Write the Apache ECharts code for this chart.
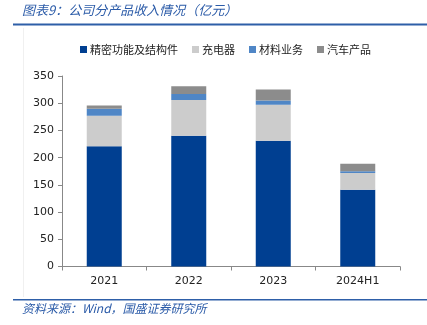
<!DOCTYPE html>
<html><head><meta charset="utf-8">
<script src="https://cdn.jsdelivr.net/npm/echarts@6/dist/echarts.min.js"></script>
<style>html,body{margin:0;padding:0;background:#fff}#c{width:427px;height:325px}</style>
</head><body><div id="c"></div>
<script>
const categories = ['2021', '2022', '2023', '2024H1'];
const precision = [221, 240, 231, 141];
const charger = [56, 66, 66, 31];
const materials = [13, 11, 8, 3];
const auto = [6, 14, 20, 14];
const seriesNames = ['精密功能及结构件', '充电器', '材料业务', '汽车产品'];
const colors = ['#003F91', '#CCCCCC', '#4F86C6', '#8C8C8C'];

const chart = echarts.init(document.getElementById('c'));
const dataArr = [precision, charger, materials, auto];
chart.setOption({
  animation: false,
  color: colors,
  textStyle: { fontFamily: 'DejaVu Sans' },
  graphic: [
    { type: 'text', left: 22, top: 4, style: { text: '图表9：公司分产品收入情况（亿元）', fill: '#2B5BA8', font: 'italic 13px "Noto Sans CJK SC"' } },
    { type: 'rect', shape: { x: 13, y: 23.5, width: 414, height: 2 }, style: { fill: '#2E5FA8' } },
    { type: 'rect', shape: { x: 13, y: 299, width: 414, height: 1.5 }, style: { fill: '#2E5FA8' } },
    { type: 'line', shape: { x1: 23.5, y1: 28, x2: 23.5, y2: 297 }, style: { stroke: '#f0f0f0', lineWidth: 1 } },
    { type: 'text', left: 22, top: 302, style: { text: '资料来源：Wind，国盛证券研究所', fill: '#2B5BA8', font: 'italic 12px "Noto Sans CJK SC"' } }
  ],
  legend: {
    top: 39, left: 75,
    itemWidth: 7, itemHeight: 7, itemGap: 14,
    icon: 'rect',
    textStyle: { fontSize: 11, color: '#222', fontFamily: 'Noto Sans CJK SC', padding: [0, 0, 0, -2] },
    data: seriesNames
  },
  grid: { left: 62, right: 27, top: 76, bottom: 58.5 },
  xAxis: {
    type: 'category', data: categories,
    axisLine: { lineStyle: { color: '#888' } },
    axisTick: { show: true, alignWithLabel: false, length: 4, lineStyle: { color: '#888' } },
    axisLabel: { color: '#222', fontSize: 11, margin: 9 }
  },
  yAxis: {
    type: 'value', min: 0, max: 350, interval: 50,
    axisLine: { show: true, lineStyle: { color: '#888' } },
    axisTick: { show: true, length: 4, lineStyle: { color: '#888' } },
    splitLine: { show: false },
    axisLabel: { color: '#222', fontSize: 11, margin: 8 }
  },
  series: seriesNames.map((n, i) => ({
    name: n, type: 'bar', stack: 'total', barWidth: 35,
    data: dataArr[i]
  }))
});
</script></body></html>
